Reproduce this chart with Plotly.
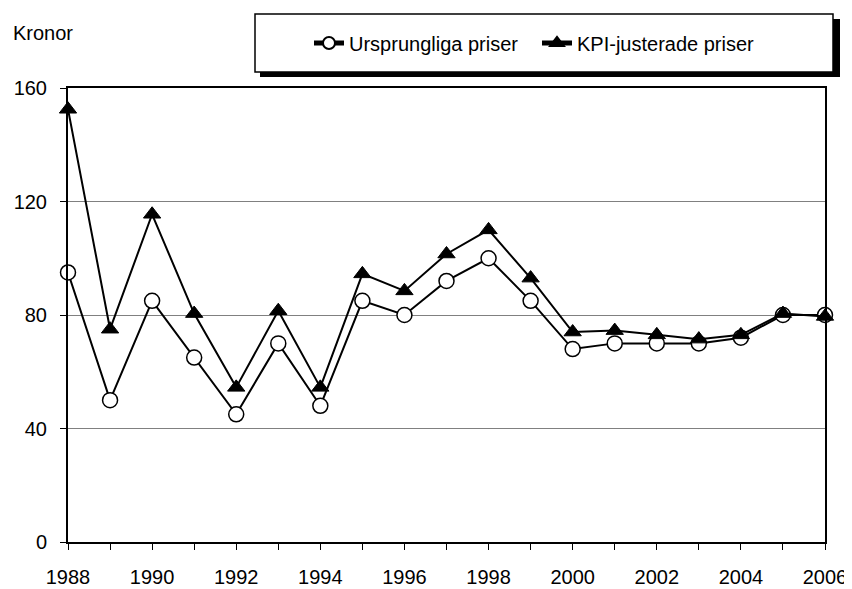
import plotly.graph_objects as go

years = list(range(1988, 2007))
ursprungliga = [95, 50, 85, 65, 45, 70, 48, 85, 80, 92, 100, 85, 68, 70, 70, 70, 72, 80, 80]
kpi_justerade = [152.5, 75, 115.5, 80.5, 54.5, 81.5, 54.5, 94.5, 88.5, 101.5, 110, 93, 74, 74.5, 73, 71.5, 73, 80.5, 79.5]
x_tickvals = years
x_ticktext = [str(y) if y % 2 == 0 else '' for y in years]
y_tickvals = [0, 40, 80, 120, 160]

FONT = 'Liberation Sans, Arial, sans-serif'

# page offset: the html body has an 8px margin
OFF = 8
W, H = 852 - OFF, 589 - OFF
# plot area in page pixels (for placing the legend box & label)
L, R, T, B = 68, 825, 88, 542


def px_x(p):
    return (p - L) / (R - L)


def px_y(p):
    return (B - p) / (B - T)


fig = go.Figure()

fig.add_trace(go.Scatter(
    x=years, y=ursprungliga,
    mode='lines+markers',
    name='Ursprungliga priser',
    line=dict(color='black', width=2),
    marker=dict(symbol='circle', size=15, color='white',
                line=dict(color='black', width=1.5)),
    cliponaxis=False
))

fig.add_trace(go.Scatter(
    x=years, y=kpi_justerade,
    mode='lines+markers',
    name='KPI-justerade priser',
    line=dict(color='black', width=2),
    marker=dict(symbol='triangle-up', size=15, color='black',
                line=dict(color='black', width=1)),
    cliponaxis=False
))

# legend box with shadow
fig.add_shape(type='rect', xref='paper', yref='paper',
              x0=px_x(260), x1=px_x(840), y0=px_y(77), y1=px_y(19),
              fillcolor='black', line=dict(width=0))
fig.add_shape(type='rect', xref='paper', yref='paper',
              x0=px_x(255), x1=px_x(833), y0=px_y(72), y1=px_y(14),
              fillcolor='white', line=dict(color='black', width=1.5))

fig.add_annotation(text='Kronor', xref='paper', yref='paper',
                   x=px_x(11), y=px_y(33), xanchor='left', yanchor='middle',
                   showarrow=False, font=dict(size=20, color='black', family=FONT))

fig.update_layout(
    width=W, height=H,
    margin=dict(l=L - OFF, r=852 - R, t=T - OFF, b=589 - B, autoexpand=False),
    paper_bgcolor='white',
    plot_bgcolor='white',
    font=dict(family=FONT, size=20, color='black'),
    showlegend=True,
    legend=dict(
        orientation='h',
        x=px_x(309), y=px_y(43),
        xanchor='left', yanchor='middle',
        bgcolor='rgba(0,0,0,0)',
        borderwidth=0,
        entrywidth=183,
        font=dict(size=20, family=FONT),
        itemsizing='constant'
    ),
    xaxis=dict(
        range=[1988, 2006],
        tickvals=x_tickvals,
        ticktext=x_ticktext,
        ticks='outside', ticklen=6, tickwidth=1, tickcolor='black',
        showline=True, linecolor='black', linewidth=2, mirror=True,
        showgrid=False, zeroline=False, automargin=False,
        ticklabelstandoff=10
    ),
    yaxis=dict(
        range=[0, 160],
        tickvals=y_tickvals,
        ticks='outside', ticklen=6, tickwidth=1, tickcolor='black',
        showline=True, linecolor='black', linewidth=2, mirror=True,
        showgrid=True, gridcolor='#808080', gridwidth=1,
        zeroline=False, automargin=False,
        ticklabelstandoff=9
    )
)

fig.write_html("out.html")
